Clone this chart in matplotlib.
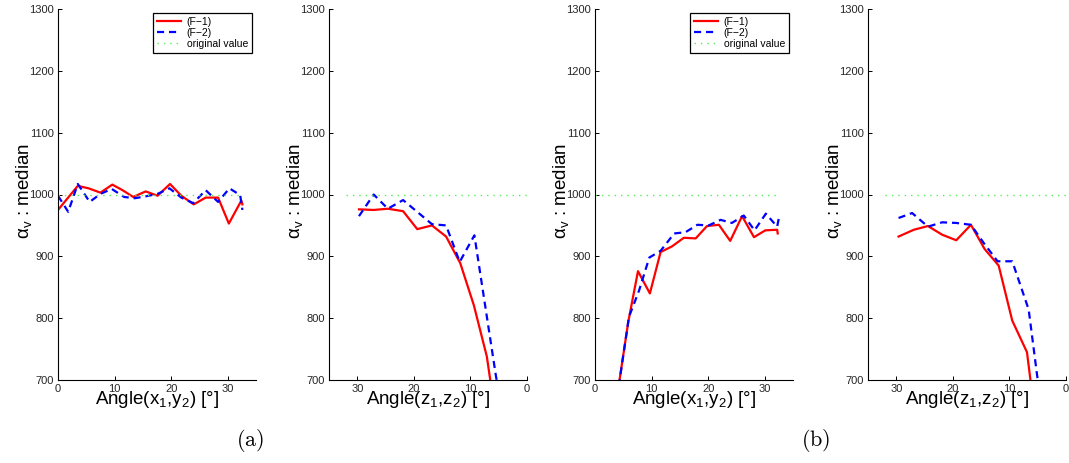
import matplotlib
matplotlib.use("Agg")
import matplotlib.pyplot as plt

plt.rcParams["font.family"] = ["Liberation Sans", "DejaVu Sans"]
plt.rcParams["mathtext.fontset"] = "custom"
plt.rcParams["mathtext.rm"] = "Liberation Sans"
plt.rcParams["mathtext.it"] = "Liberation Sans"
plt.rcParams["mathtext.default"] = "regular"

# (a) left: Angle(x1,y2)
a1_f1_x = [0, 3.5, 5.4, 7.5, 9.6, 11.4, 13.3, 15.5, 17.6, 19.8, 21.8, 24.0, 26.1, 28.3, 30.2, 32.4, 32.6]
a1_f1_y = [975, 1014, 1010, 1003, 1016, 1007, 996, 1005, 998, 1017, 998, 984, 995, 995, 953, 990, 984]
a1_f2_x = [0, 1.8, 3.5, 5.6, 7.5, 9.5, 11.7, 13.6, 15.5, 17.6, 19.7, 21.8, 23.9, 26.1, 28.3, 30.3, 32.2, 32.6]
a1_f2_y = [998, 972, 1017, 988, 1001, 1009, 996, 994, 997, 1001, 1010, 995, 986, 1007, 988, 1010, 999, 975]

# (a) right: Angle(z1,z2)
a2_f1_x = [29.7, 27.1, 24.6, 21.9, 19.4, 16.8, 14.3, 11.8, 9.4, 7.1, 5.7]
a2_f1_y = [976, 975, 977, 973, 944, 950, 932, 889, 821, 738, 650]
a2_f2_x = [29.7, 27.1, 24.6, 21.9, 16.8, 14.3, 11.9, 9.3, 5.5, 5.0]
a2_f2_y = [965, 1000, 977, 991, 952, 950, 891, 934, 707, 680]

# (b) left: Angle(x1,y2)
b1_f1_x = [4.0, 5.9, 7.6, 9.7, 11.6, 13.6, 15.7, 17.8, 19.8, 21.9, 23.9, 26.0, 28.1, 30.1, 32.2, 32.3]
b1_f1_y = [680, 795, 876, 840, 907, 916, 930, 929, 949, 951, 925, 965, 931, 942, 943, 937]
b1_f2_x = [4.2, 6.0, 7.8, 9.6, 11.6, 14.0, 16.0, 18.1, 20.1, 22.2, 24.2, 26.3, 28.2, 30.2, 32.2, 32.5]
b1_f2_y = [690, 802, 845, 898, 909, 937, 939, 951, 950, 959, 954, 966, 942, 969, 948, 962]

# (b) right: Angle(z1,z2)
b2_f1_x = [29.6, 26.9, 24.4, 21.9, 19.4, 16.8, 14.4, 11.9, 9.5, 6.9, 5.6]
b2_f1_y = [932, 943, 949, 935, 926, 951, 912, 885, 796, 745, 650]
b2_f2_x = [29.6, 27.2, 24.4, 21.9, 19.4, 16.8, 14.5, 12.1, 9.5, 6.6, 5.1, 4.8]
b2_f2_y = [962, 970, 948, 955, 954, 951, 921, 892, 892, 814, 707, 690]

orig_xy_x = [0, 32.5]
orig_z_x = [32, 0]
orig_val = [1000, 1000]

panels = [
    (a1_f1_x, a1_f1_y, a1_f2_x, a1_f2_y, orig_xy_x, r"Angle(x$_1$,y$_2$) [$\degree$]", False, True),
    (a2_f1_x, a2_f1_y, a2_f2_x, a2_f2_y, orig_z_x, r"Angle(z$_1$,z$_2$) [$\degree$]", True, False),
    (b1_f1_x, b1_f1_y, b1_f2_x, b1_f2_y, orig_xy_x, r"Angle(x$_1$,y$_2$) [$\degree$]", False, True),
    (b2_f1_x, b2_f1_y, b2_f2_x, b2_f2_y, orig_z_x, r"Angle(z$_1$,z$_2$) [$\degree$]", True, False),
]
lefts = [58, 329, 595, 868]

W, H = 1069, 463
fig = plt.figure(figsize=(W / 100, H / 100), dpi=100)

for i, (x1, y1, x2, y2, ox, xlab, rev, leg) in enumerate(panels):
    ax = fig.add_axes([lefts[i] / W, 1 - 380 / H, 198 / W, 371 / H])
    ax.plot(x1, y1, color="#ff0000", lw=1.6, label="(F\u22121)")
    ax.plot(x2, y2, color="#0000ff", lw=1.6, dashes=(3.2, 2.2), label="(F\u22122)")
    ax.plot(ox, orig_val, color="#55ee55", lw=1.0, linestyle=(0, (1, 3.6)), label="original value")
    ax.set_ylim(700, 1300)
    ax.set_yticks(range(700, 1301, 100))
    ax.set_xticks([0, 10, 20, 30])
    if rev:
        ax.set_xlim(35, 0)
    else:
        ax.set_xlim(0, 35)
    for s in ["top", "right"]:
        ax.spines[s].set_visible(False)
    for s in ["left", "bottom"]:
        ax.spines[s].set_linewidth(0.8)
    ax.tick_params(direction="in", length=3, width=0.7, labelsize=8, labelcolor="0.15", pad=3)
    ax.set_xlabel(xlab, fontsize=13.5)
    ax.xaxis.set_label_coords(0.5, -0.025)
    ax.xaxis.label.set_va("top")
    ax.set_ylabel(r"$\alpha_v$ : median", fontsize=13.5)
    ax.yaxis.set_label_coords(-24 / 198, 0.51)
    if leg:
        lg = ax.legend(loc="upper right", fontsize=7.5, handlelength=2.3, handletextpad=0.55,
                       labelspacing=0.1, borderpad=0.35, borderaxespad=0.4,
                       fancybox=False, framealpha=1, edgecolor="black")
        lg.get_frame().set_linewidth(0.9)

fig.text(250 / W, 1 - 440 / H, r"$\mathrm{(a)}$", math_fontfamily="cm", fontsize=16, ha="center", va="center")
fig.text(816 / W, 1 - 440 / H, r"$\mathrm{(b)}$", math_fontfamily="cm", fontsize=16, ha="center", va="center")

fig.savefig("out.png", dpi=100)
